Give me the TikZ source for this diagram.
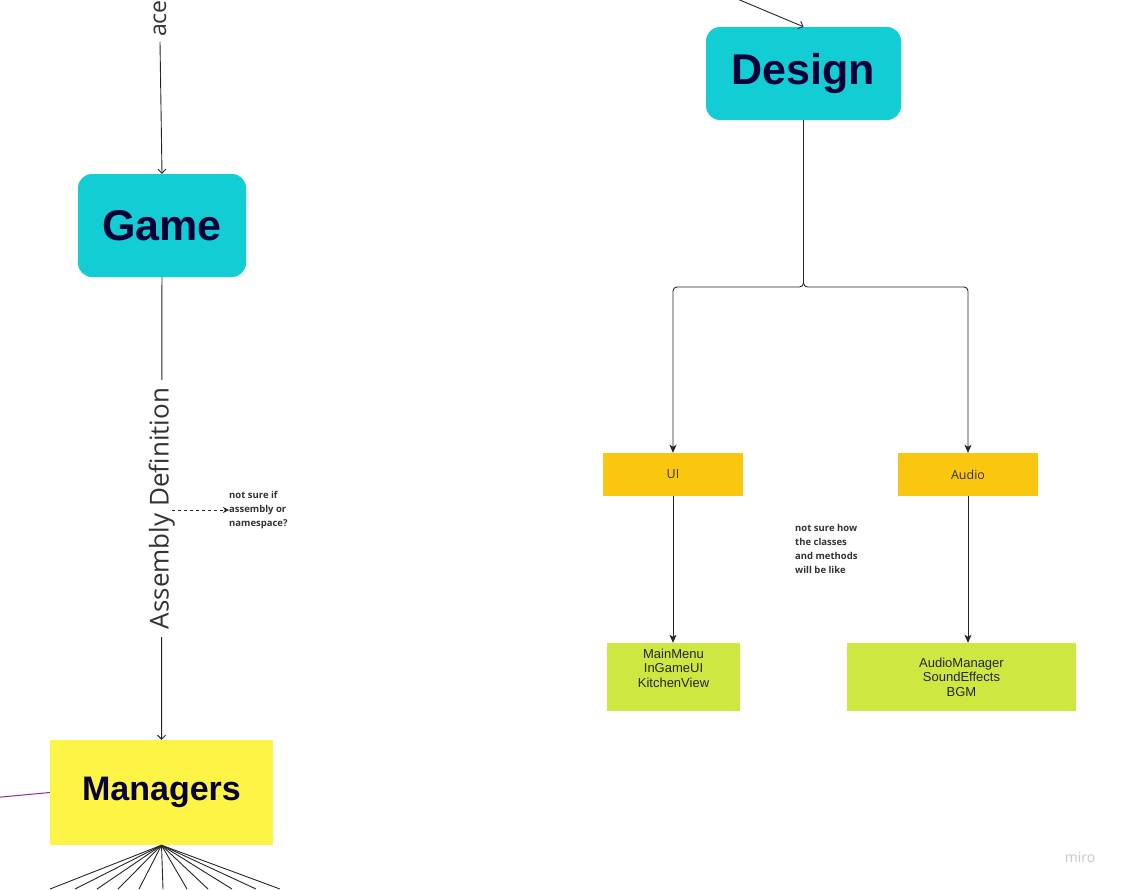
\documentclass[tikz,border=0pt]{standalone}
\usepackage{fontspec}
\setmainfont{Liberation Sans}
\newfontfamily\opensans{Open Sans}
\usetikzlibrary{arrows.meta}

\definecolor{miroteal}{HTML}{13CDD4}
\definecolor{miroyellow}{HTML}{FEF445}
\definecolor{miroamber}{HTML}{FAC710}
\definecolor{mirolime}{HTML}{CEE741}
\definecolor{miroink}{HTML}{050038}
\definecolor{notegray}{HTML}{333333}
\definecolor{wirepurple}{HTML}{8E2A9E}

\begin{document}
\begin{tikzpicture}[x=1pt,y=1pt,
    title/.style={fill=miroteal,rounded corners=14pt,text=miroink,
                  font=\fontsize{43}{50}\selectfont\bfseries},
    group/.style={fill=miroamber,minimum width=140pt,minimum height=43pt,
                  text=notegray,font=\opensans\fontsize{12.5}{15}\selectfont},
    items/.style={fill=mirolime,minimum height=68pt,text=black!85,align=center,
                  font=\fontsize{13}{14.5}\selectfont},
    note/.style={align=left,anchor=west,inner sep=0pt,text=notegray,
                 font=\opensans\bfseries\fontsize{9.5}{14}\selectfont},
    wire/.style={line width=0.9pt,draw=black!85},
    openhead/.style={-{Straight Barb[length=4pt,width=8pt]}},
    fullhead/.style={-{Stealth[length=8pt,width=7pt,inset=2pt]}}]

\clip (0,0) rectangle (1124,-889);
\fill[white] (0,0) rectangle (1124,-889);

% boxes
\node[title,minimum width=195pt,minimum height=93pt] (design) at (803.5,-73.5) {Design};
\node[title,minimum width=168pt,minimum height=103pt] (game) at (162,-225.5) {Game};
\node[fill=miroyellow,minimum width=223pt,minimum height=105pt,text=miroink,
      font=\fontsize{34}{40}\selectfont\bfseries] (managers) at (161.5,-792.5) {Managers};

\node[group] (ui) at (673,-474.5) {UI};
\node[group] (audio) at (968,-474.5) {Audio};

\node[items,minimum width=133pt] (uiitems) at (673.5,-677) {};
\node[anchor=north,inner sep=0pt,align=center,text=black!85,
      font=\fontsize{13}{14.5}\selectfont] (uitext) at (673.5,-648.5)
      {MainMenu\\InGameUI\\KitchenView};
\node[items,minimum width=229pt] (audioitems) at (961.5,-677)
      {AudioManager\\SoundEffects\\BGM};

% labels and notes
\node[rotate=90,anchor=west,inner sep=5pt,text=notegray,
      font=\opensans\fontsize{23}{27}\selectfont] (nslabel) at (160,-42) {ace};
\node[note] (assemblynote) at (229,-510) {not sure if\\assembly or\\namespace?};
\node[note] (classnote) at (795,-549) {not sure how\\the classes\\and methods\\will be like};
\node[text=black!22,font=\opensans\fontsize{14}{16}\selectfont] (watermark) at (1080,-857) {miro};

\coordinate (incoming) at (735,2);
\coordinate (split) at (803.5,-287);
\coordinate (dashstart) at (172,-510);
\coordinate (purpleend) at (-5,-797.6);

% connectors
\draw[wire,openhead] (incoming) -- (design.north);
\draw[wire,openhead] (nslabel.west) -- (game.north);
\path[wire,openhead] (game) edge node[rotate=90,fill=white,inner sep=8pt,text=notegray,
      font=\opensans\fontsize{26}{30}\selectfont] (asmlabel) {Assembly Definition} (managers);
\draw[wire,dashed,-{Stealth[length=6pt,width=6pt]}] (dashstart) -- (assemblynote.west);

\draw[wire,fullhead,rounded corners=4pt] (design.south) -- (split) -| (ui.north);
\draw[wire,fullhead,rounded corners=4pt] (design.south) -- (split) -| (audio.north);
\draw[wire,fullhead] (ui.south) -- (ui.south |- uiitems.north);
\draw[wire,fullhead] (audio.south) -- (audio.south |- audioitems.north);

\draw[wirepurple,line width=1pt] (purpleend) -- (managers.west);

\foreach \x [count=\n] in {50,75,97,118,139,163,187,208,232,256,280} {
  \coordinate (fan\n) at (\x,-889);
  \draw[wire] (managers.south) -- (fan\n);
}
\end{tikzpicture}
\end{document}
